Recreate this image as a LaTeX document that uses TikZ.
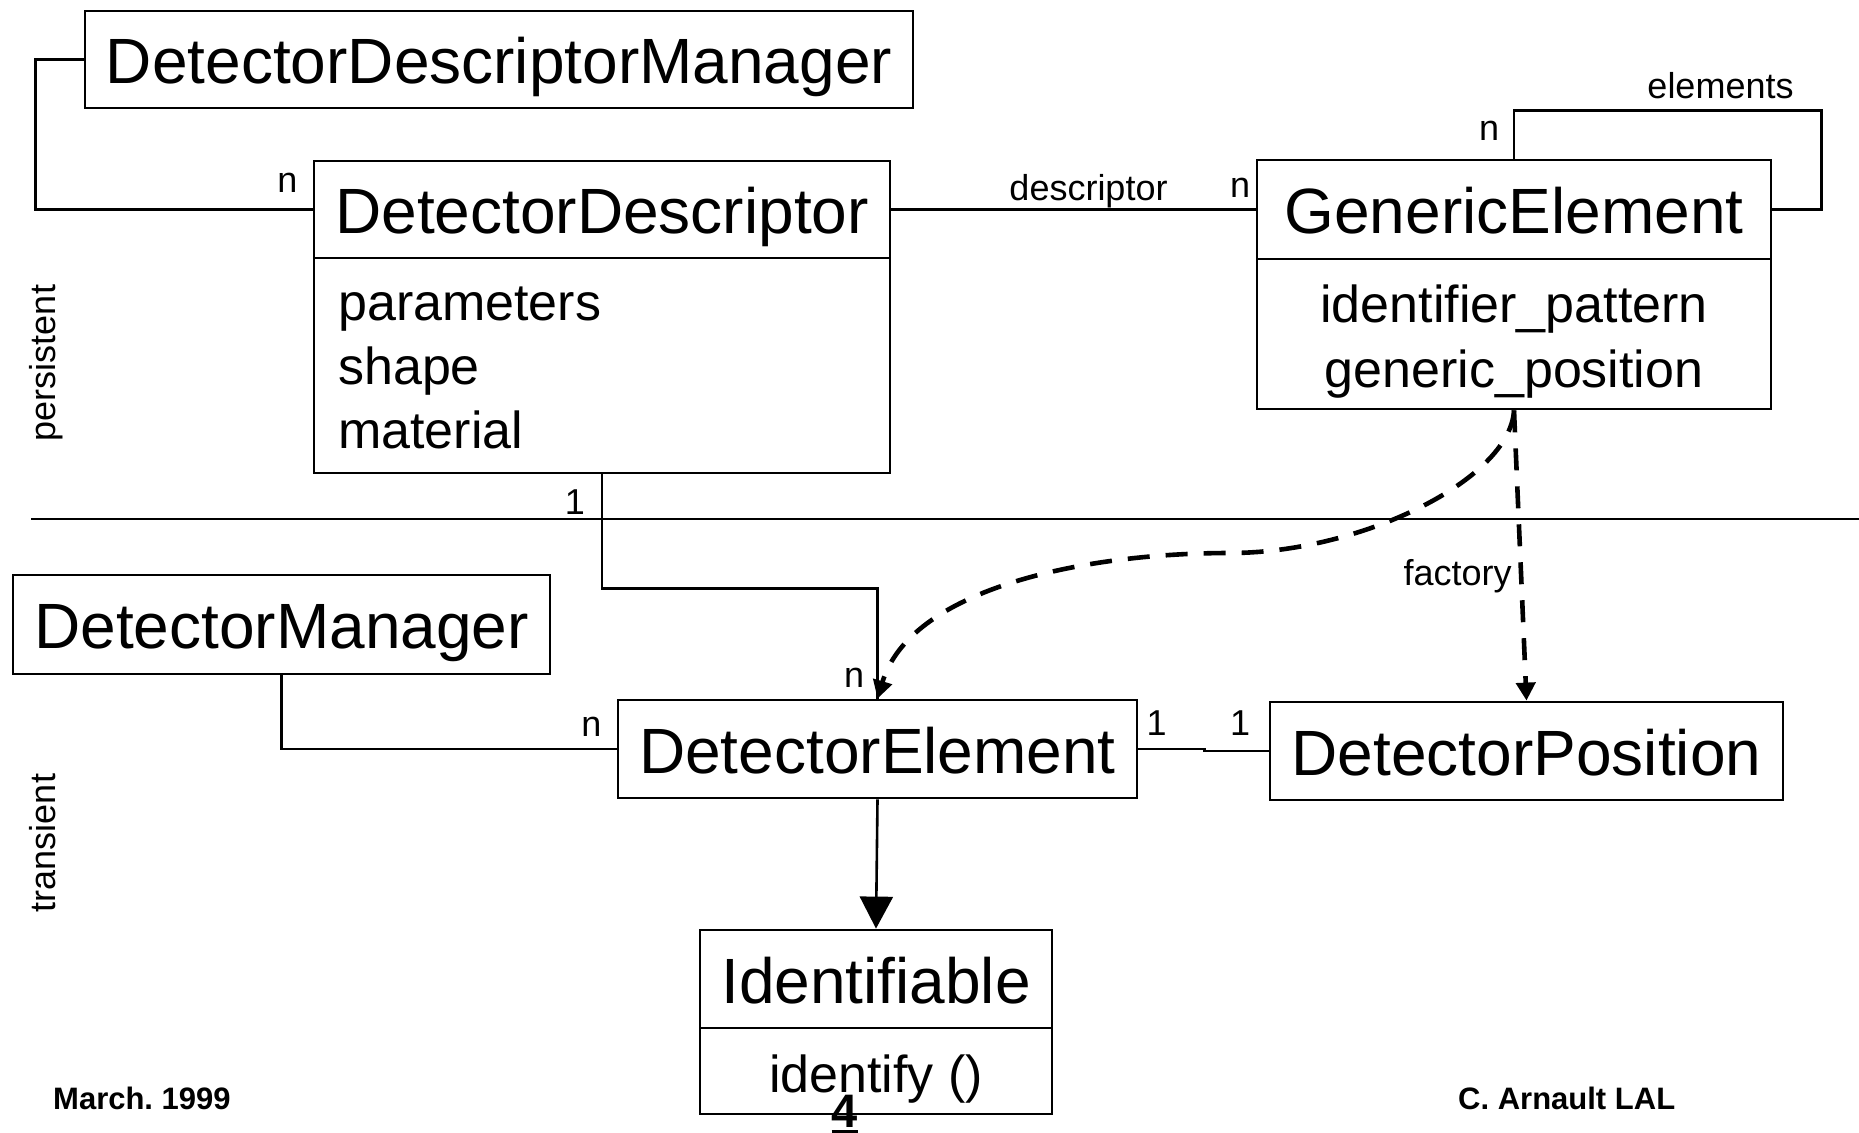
\documentclass[tikz,border=0pt]{standalone}
\usepackage{fontspec}
\setmainfont{Liberation Sans}
\usetikzlibrary{arrows.meta}
\frenchspacing
\begin{document}
\begin{tikzpicture}[x=1pt,y=-1pt,
  box/.style={draw, line width=2.8pt, inner sep=0pt, font=\fontsize{64}{64}\selectfont, text height=48pt, text depth=0pt},
  attr/.style={inner sep=0pt, font=\fontsize{52}{52}\selectfont},
  lbl/.style={inner sep=0pt, font=\fontsize{36}{36}\selectfont},
  foot/.style={inner sep=0pt, font=\bfseries\fontsize{31}{31}\selectfont},
  link/.style={line width=2.6pt},
  dep/.style={line width=4.6pt, dash pattern=on 22pt off 16pt, -{Triangle[length=18pt,width=19pt]}},
  inherit/.style={line width=2.6pt, -{Triangle[length=32pt,width=33pt]}}]
\useasboundingbox (0,0) rectangle (1859,1132);

% class boxes
\node[box, minimum width=828pt, minimum height=97pt] (ddm) at (499,59.5) {DetectorDescriptorManager};
\node[box, minimum width=576pt, minimum height=97pt] (dd) at (602,209.5) {DetectorDescriptor};
\node[box, minimum width=576pt, minimum height=215pt] (ddb) at (602,365.5) {};
\node[box, minimum width=514pt, minimum height=99pt] (ge) at (1514,209.5) {GenericElement};
\node[box, minimum width=514pt, minimum height=150pt] (geb) at (1514,334) {};
\node[box, minimum width=537pt, minimum height=99pt] (dm) at (281.5,624.5) {DetectorManager};
\node[box, minimum width=519pt, minimum height=98pt] (de) at (877.5,749) {DetectorElement};
\node[box, minimum width=513pt, minimum height=98pt] (dp) at (1526.5,751) {DetectorPosition};
\node[box, minimum width=352pt, minimum height=98pt] (id) at (876,979) {Identifiable};
\node[box, minimum width=352pt, minimum height=86pt] (idb) at (876,1071) {};

% attributes
\node[attr, anchor=base west] (pa) at (338,320) {parameters};
\node[attr, anchor=base west] (sh) at (338,384) {shape};
\node[attr, anchor=base west] (ma) at (338,448) {material};
\node[attr, anchor=base] (ip) at (1514,322) {identifier\_pattern};
\node[attr, anchor=base] (gp) at (1514,387) {generic\_position};
\node[attr, anchor=base] (idf) at (876,1092) {identify ()};

% separator
\coordinate (sepL) at (31,519);
\coordinate (sepR) at (1859,519);
\draw[link] (sepL) -- (sepR);

% connectors
\draw[link] (ddm.west) -- ++(-48,0) |- (dd.west);
\draw[link] (dd.east) -- (ge.west);
\draw[link] (ge.north) -- ++(0,-48) -| ([xshift=49pt]ge.east) -- (ge.east);
\draw[link] (ddb.south) -- ++(0,114) -| (de.north);
\draw[link] (dm.south) |- (de.west);
\draw[link] (de.east) -- ++(66,0) |- (dp.west);
\draw[inherit] (de.south) -- (id.north);
\draw[dep] (geb.south) .. controls (1510,480) and (1360,553) .. (1230,553)
                       .. controls (1080,553) and (910,590) .. (de.north);
\draw[dep] (geb.south) -- (dp.north);

% labels
\node[lbl, anchor=base] (n1) at (287.5,192) {n};
\node[lbl, anchor=base] (descr) at (1088.5,200) {descriptor};
\node[lbl, anchor=base] (n2) at (1240,197) {n};
\node[lbl, anchor=base] (n3) at (1489,140) {n};
\node[lbl, anchor=base] (elem) at (1720.5,98) {elements};
\node[lbl, anchor=base] (one1) at (575,514) {1};
\node[lbl, anchor=base] (n4) at (854,687) {n};
\node[lbl, anchor=base] (n5) at (591.5,736) {n};
\node[lbl, anchor=base] (one2) at (1156.5,735) {1};
\node[lbl, anchor=base] (one3) at (1240,735) {1};
\node[lbl, anchor=base] (fact) at (1457.5,585) {factory};
\node[lbl, rotate=90] (pers) at (46,363) {persistent};
\node[lbl, rotate=90] (trans) at (43,843) {transient};

% footer
\node[foot, anchor=base west] (date) at (53,1109) {March. 1999};
\node[foot, anchor=base west] (auth) at (1458,1109) {C. Arnault LAL};
\node[inner sep=0pt, font=\bfseries\fontsize{47}{47}\selectfont, anchor=base] (pg) at (845,1127) {4};
\draw[line width=3pt] ([yshift=-4pt]pg.base west) -- ([yshift=-4pt]pg.base east);
\end{tikzpicture}
\end{document}
